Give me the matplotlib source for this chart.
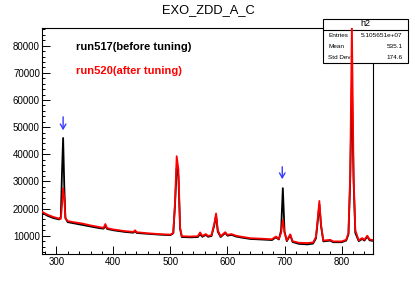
import matplotlib
matplotlib.use("Agg")
import matplotlib.pyplot as plt
from matplotlib.patches import Rectangle
from matplotlib.ticker import MultipleLocator

plt.rcParams['font.family'] = ['Liberation Sans', 'DejaVu Sans']

# --- data ---
x_vals = [275, 285, 295, 305, 308, 310, 312, 314, 316, 320, 330, 345, 360, 375, 383, 386, 389,
          400, 420, 435, 438, 441, 460, 480, 500, 505, 508, 511, 514, 517, 520, 535, 548, 552,
          556, 562, 566, 572, 577, 580, 583, 588, 596, 600, 607, 615, 625, 640, 660, 678, 685,
          690, 694, 697, 700, 704, 710, 714, 725, 740, 750, 755, 758, 761, 764, 768, 780, 785,
          800, 808, 812, 815, 818, 821, 824, 830, 836, 840, 845, 849, 855]
run520 = [18800, 17700, 16900, 16300, 16200, 21000, 27500, 24000, 16500, 15400, 15000, 14500,
          13800, 13200, 12900, 14300, 12800, 12300, 11700, 11400, 12000, 11300, 10900, 10600,
          10400, 11000, 22000, 39300, 34500, 13000, 9800, 9700, 9800, 11200, 9900, 10600, 9900,
          10200, 14500, 18200, 12000, 9800, 11300, 10300, 10600, 10000, 9600, 9100, 8900, 8700,
          9700, 8800, 11000, 15800, 11000, 8300, 10500, 8000, 7400, 7300, 7500, 9500, 16000,
          22800, 14000, 8200, 8500, 7900, 7900, 8500, 11000, 32000, 88000, 32000, 12000, 8300,
          9100, 8500, 10000, 8600, 8400]
run517 = [18500, 17300, 16500, 16000, 17000, 33000, 46000, 28500, 16500, 15000, 14600, 14000,
          13400, 12800, 12600, 13700, 12500, 12000, 11400, 11100, 11700, 11000, 10700, 10400,
          10200, 10900, 21000, 35000, 32000, 12500, 9500, 9400, 9500, 10500, 9600, 10300, 9600,
          9900, 14000, 17500, 11500, 9500, 11000, 10000, 10300, 9700, 9300, 8800, 8600, 8400,
          9400, 8600, 12000, 27500, 11500, 8000, 10200, 7700, 7000, 6800, 7100, 9000, 15000,
          21500, 13500, 7900, 8200, 7600, 7600, 8200, 10500, 30000, 66000, 30000, 11000, 8000,
          8800, 8200, 9700, 8300, 8100]
arrow_x = [312, 696]
arrow_top = [54800, 36400]
arrow_bottom = [47800, 29800]
stats_labels = ["Entries", "Mean", "Std Dev"]
stats_values = ["5.105651e+07", "535.1", "174.6"]

W, H = 415, 283
fig = plt.figure(figsize=(W / 100, H / 100), dpi=100)
ax = fig.add_axes([42 / W, (H - 254) / H, (373 - 42) / W, (254 - 28) / H])

ax.plot(x_vals, run517, color='black', lw=1.3, zorder=2)
ax.plot(x_vals, run520, color='#ff0000', lw=1.3, zorder=3)

ax.set_xlim(275, 855)
ax.set_ylim(3260, 86500)

ax.xaxis.set_major_locator(MultipleLocator(100))
ax.xaxis.set_minor_locator(MultipleLocator(20))
ax.yaxis.set_major_locator(MultipleLocator(10000))
ax.yaxis.set_minor_locator(MultipleLocator(2000))
ax.tick_params(which='both', direction='in', top=False, right=False, labelsize=7, width=0.7,
               colors='black')
ax.tick_params(which='major', length=5.5, pad=2)
ax.tick_params(axis='y', which='major', pad=1.5)
ax.tick_params(which='minor', length=2.5)
for s in ax.spines.values():
    s.set_linewidth(0.8)
    s.set_zorder(1)

fig.text(208 / W, 1 - 10 / H, "EXO_ZDD_A_C", ha='center', va='center', fontsize=9.3)

ax.text(76 / W, 1 - 47.5 / H, "run517(before tuning)", transform=fig.transFigure,
        fontsize=8, fontweight='bold', color='black', va='center', ha='left')
ax.text(76 / W, 1 - 71 / H, "run520(after tuning)", transform=fig.transFigure,
        fontsize=8, fontweight='bold', color='#ff0000', va='center', ha='left')

for xa, yt, yb in zip(arrow_x, arrow_top, arrow_bottom):
    ax.annotate("", xy=(xa, yb), xytext=(xa, yt),
                arrowprops=dict(arrowstyle='->,head_length=0.35,head_width=0.2',
                                color='#3a3aff', lw=1.0), zorder=4)

# stats box
bx0, bx1, by0, by1 = 323, 408, 19, 63
tf = fig.transFigure
box = Rectangle((bx0 / W, 1 - by1 / H), (bx1 - bx0) / W, (by1 - by0) / H, transform=tf,
                facecolor='white', edgecolor='black', lw=0.8, zorder=1.5, clip_on=False)
ax.add_artist(box)
ax.plot([bx0 / W, bx1 / W], [1 - 29.5 / H, 1 - 29.5 / H], transform=tf, color='black',
        lw=0.8, zorder=1.6, clip_on=False)
ax.text(365 / W, 1 - 24 / H, "h2", transform=tf, ha='center', va='center', fontsize=6.5,
        zorder=1.7)
for i, (lab, val) in enumerate(zip(stats_labels, stats_values)):
    yy = 1 - (35.7 + 11 * i) / H
    ax.text(328 / W, yy, lab, transform=tf, ha='left', va='center', fontsize=4.6, zorder=1.7)
    ax.text(402.5 / W, yy, val, transform=tf, ha='right', va='center', fontsize=4.6, zorder=1.7)

fig.savefig("out.png", dpi=100)
